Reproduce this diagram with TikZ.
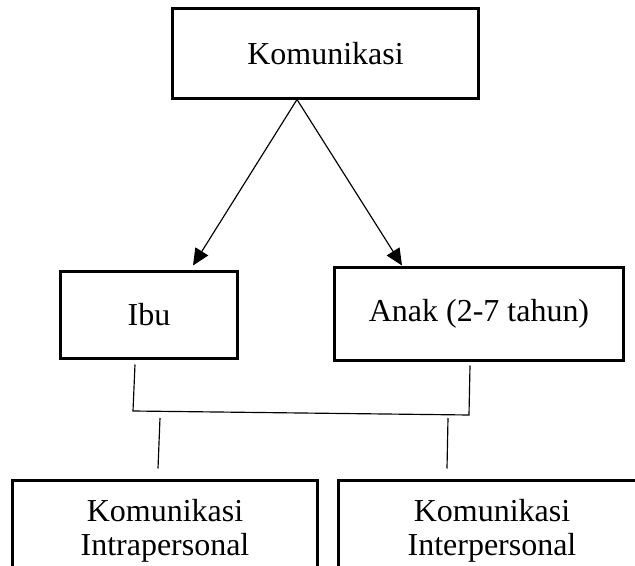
\documentclass[tikz,border=0pt]{standalone}
\usepackage{fontspec}
\setmainfont{Liberation Serif}
\usetikzlibrary{arrows.meta}
\usetikzlibrary{calc}

\tikzset{box/.style={draw, line width=0.09cm, inner sep=0pt, align=center, font=\fontsize{27.3}{29.5}\selectfont}}
\tikzset{arr/.style={-{Triangle[length=0.5cm,width=0.45cm]}, line width=0.035cm}}
\tikzset{ln/.style={line width=0.035cm}}

\begin{document}
\begin{tikzpicture}[x=0.03cm,y=-0.03cm]
\useasboundingbox (0,0) rectangle (635,566);
\clip (0,0) rectangle (635,566);

\node[box, minimum width=9.15cm, minimum height=2.67cm] (kom) at (325.5,53.5) {Komunikasi};
\node[box, minimum width=5.28cm, minimum height=2.58cm] (ibu) at (149,315) {Ibu};
\node[box, minimum width=8.64cm, minimum height=2.76cm] (anak) at (479,314) {Anak (2-7 tahun)};
\node[box, minimum width=9.12cm, minimum height=3.0cm] (intra) at (165,531) {Komunikasi\\Intrapersonal};
\node[box, minimum width=9.18cm, minimum height=3.0cm] (inter) at (492,531) {Komunikasi\\Interpersonal};

% arrows from the top box
\coordinate (apex) at ($(kom.south)+(-28.5,0)$);
\draw[arr] (apex) -- ($(ibu.north)+(44,-5)$);
\draw[arr] (apex) -- ($(anak.north)+(-77,-1)$);

% joining lines
\coordinate (ibuA) at ($(ibu.south)+(-14,5)$);
\coordinate (ibuB) at (133,411);
\coordinate (anakA) at ($(anak.south)+(-9,4)$);
\coordinate (anakB) at (469,415);
\draw[ln] (ibuA) -- (ibuB) -- (anakB) -- (anakA);
\draw[ln] (160,418) -- ($(intra.north)+(-7,-11)$);
\draw[ln] (448,418) -- ($(inter.north)+(-45,-11)$);
\end{tikzpicture}
\end{document}
